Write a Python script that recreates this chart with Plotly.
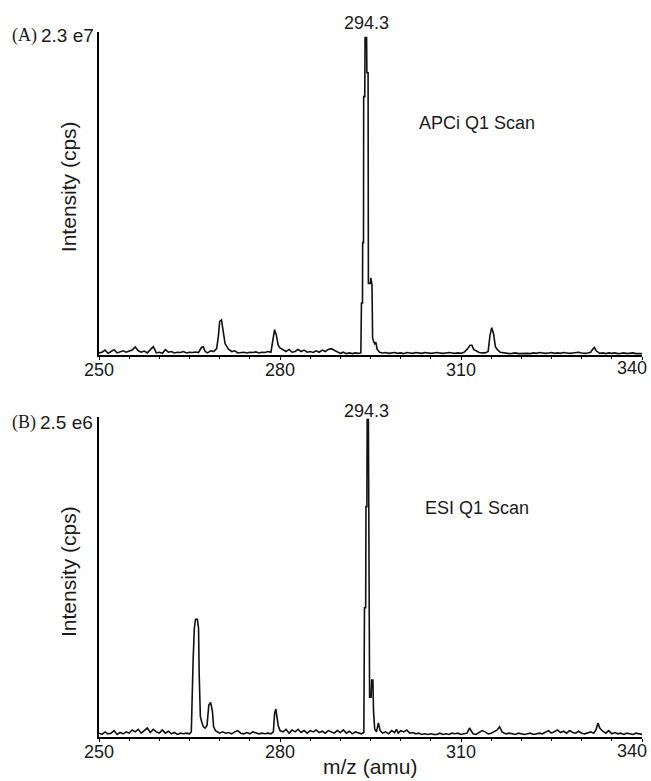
import plotly.graph_objects as go

# ---------------- Data ----------------
# Panel A: APCi Q1 scan, intensity in units of 1e5 cps (full scale 2.3e7)
mz_A = [250.0, 250.5, 251.0, 251.5, 252.0, 252.5, 253.0, 253.5, 254.0, 254.5,
        255.0, 255.5, 256.0, 256.5, 257.0, 257.5, 258.0, 258.5, 259.0, 259.5,
        260.0, 260.5, 261.0, 261.5, 262.0, 262.5, 263.0, 263.5, 264.0, 264.5,
        265.0, 265.5, 266.0, 266.5, 267.0, 267.3, 267.6, 268.0, 268.5, 269.0,
        269.5, 269.8, 270.0, 270.3, 270.6, 270.9, 271.2, 271.5, 272.0, 272.5,
        273.0, 273.5, 274.0, 274.5, 275.0, 275.5, 276.0, 276.5, 277.0, 277.5,
        278.0, 278.5, 278.8, 279.1, 279.4, 279.7, 280.0, 280.5, 281.0, 281.5,
        282.0, 282.5, 283.0, 283.5, 284.0, 284.5, 285.0, 285.5, 286.0, 286.5,
        287.0, 287.5, 288.0, 288.5, 289.0, 289.5, 290.0, 290.5, 291.0, 291.5,
        292.0, 292.5, 293.0, 293.4, 293.5, 293.67, 293.7, 293.84, 293.87, 294.05,
        294.1, 294.35, 294.4, 294.6, 294.65, 295.0, 295.05, 295.25, 295.35, 295.5,
        295.7, 295.9, 296.1, 296.3, 296.5, 297.0, 297.5, 298.0, 298.5, 299.0,
        299.5, 300.0, 300.5, 301.0, 301.5, 302.0, 302.5, 303.0, 303.5, 304.0,
        304.5, 305.0, 305.5, 306.0, 306.5, 307.0, 307.5, 308.0, 308.5, 309.0,
        309.5, 310.0, 310.5, 311.0, 311.5, 311.8, 312.1, 312.5, 313.0, 313.5,
        314.0, 314.5, 314.8, 315.1, 315.4, 315.7, 316.0, 316.5, 317.0, 317.5,
        318.0, 318.5, 319.0, 319.5, 320.0, 320.5, 321.0, 321.5, 322.0, 322.5,
        323.0, 323.5, 324.0, 324.5, 325.0, 325.5, 326.0, 326.5, 327.0, 327.5,
        328.0, 328.5, 329.0, 329.5, 330.0, 330.5, 331.0, 331.5, 331.8, 332.1,
        332.4, 332.8, 333.0, 333.5, 334.0, 334.5, 335.0, 335.5, 336.0, 336.5,
        337.0, 337.5, 338.0, 338.5, 339.0, 339.5, 340.0]
int_A = [1.5, 2.0, 3.5, 1.2, 2.5, 3.8, 1.5, 2.2, 3.0, 2.0,
         2.5, 3.5, 5.8, 3.0, 2.0, 2.8, 1.5, 3.5, 6.0, 1.5,
         2.0, 1.2, 3.8, 2.0, 2.5, 1.5, 2.0, 1.8, 2.5, 1.5,
         2.0, 1.8, 2.2, 1.8, 5.5, 5.8, 2.5, 1.5, 3.0, 2.5,
         4.5, 14.0, 24.0, 25.0, 15.0, 8.0, 6.0, 4.0, 2.5, 3.0,
         1.5, 1.8, 2.0, 1.5, 2.0, 1.8, 2.2, 1.5, 2.0, 1.8,
         2.5, 2.0, 10.0, 18.0, 14.0, 7.0, 5.0, 3.5, 2.5, 4.0,
         2.0, 2.5, 4.0, 2.5, 3.5, 2.0, 2.5, 1.8, 3.0, 2.0,
         3.5, 2.5, 4.0, 4.5, 3.5, 2.0, 1.2, 2.0, 1.0, 1.5,
         1.0, 1.5, 1.2, 1.5, 37.0, 37.0, 80.0, 80.0, 184.0, 184.0,
         226.0, 226.0, 201.0, 201.0, 51.0, 51.0, 55.0, 50.0, 12.0, 10.0,
         8.0, 9.0, 4.0, 3.0, 2.0, 1.5, 1.8, 1.2, 1.5, 1.8,
         1.2, 1.5, 1.0, 1.8, 1.5, 1.2, 1.8, 1.5, 1.2, 1.8,
         1.5, 1.2, 1.5, 1.8, 1.5, 1.2, 1.5, 1.8, 1.5, 1.2,
         1.5, 1.2, 2.0, 4.0, 7.0, 7.0, 4.0, 3.0, 1.8, 1.5,
         1.5, 2.5, 14.0, 19.5, 15.0, 6.0, 4.0, 2.0, 1.5, 1.2,
         1.0, 1.2, 1.5, 1.0, 1.2, 1.5, 1.2, 1.0, 1.5, 1.2,
         1.8, 1.5, 1.2, 1.5, 1.8, 1.2, 1.5, 1.2, 1.8, 1.5,
         1.2, 1.5, 1.8, 2.0, 1.5, 1.2, 1.5, 2.0, 4.0, 5.5,
         3.0, 2.0, 1.2, 1.5, 1.0, 1.5, 1.2, 1.5, 1.0, 1.2,
         1.5, 1.0, 1.2, 1.5, 1.0, 1.2, 1.0]

# Panel B: ESI Q1 scan, intensity in units of 1e4 cps (full scale 2.5e6)
mz_B = [250.0, 250.5, 251.0, 251.5, 252.0, 252.5, 253.0, 253.5, 254.0, 254.5,
        255.0, 255.5, 256.0, 256.5, 257.0, 257.5, 258.0, 258.5, 259.0, 259.5,
        260.0, 260.5, 261.0, 261.5, 262.0, 262.5, 263.0, 263.5, 264.0, 264.5,
        265.0, 265.3, 265.4, 265.6, 265.8, 266.0, 266.3, 266.5, 266.6, 266.8,
        267.0, 267.3, 267.6, 267.9, 268.2, 268.5, 268.8, 269.0, 269.3, 269.6,
        270.0, 270.5, 271.0, 271.5, 272.0, 272.5, 273.0, 273.5, 274.0, 274.5,
        275.0, 275.5, 276.0, 276.5, 277.0, 277.5, 278.0, 278.5, 278.9, 279.1,
        279.3, 279.5, 279.7, 280.0, 280.5, 281.0, 281.5, 282.0, 282.5, 283.0,
        283.5, 284.0, 284.5, 285.0, 285.5, 286.0, 286.5, 287.0, 287.5, 288.0,
        288.5, 289.0, 289.5, 290.0, 290.5, 291.0, 291.5, 292.0, 292.5, 293.0,
        293.5, 293.9, 294.0, 294.2, 294.25, 294.4, 294.45, 294.65, 294.7, 294.8,
        294.85, 295.1, 295.2, 295.4, 295.5, 295.7, 296.0, 296.3, 296.6, 297.0,
        297.5, 298.0, 298.5, 299.0, 299.3, 299.6, 300.0, 300.5, 301.0, 301.5,
        302.0, 302.5, 303.0, 303.5, 304.0, 304.5, 305.0, 305.5, 306.0, 306.5,
        307.0, 307.5, 308.0, 308.5, 309.0, 309.5, 310.0, 310.5, 311.0, 311.4,
        311.8, 312.0, 312.5, 313.0, 313.5, 314.0, 314.5, 315.0, 315.5, 316.0,
        316.4, 316.8, 317.2, 317.5, 318.0, 318.5, 319.0, 319.5, 320.0, 320.5,
        321.0, 321.5, 322.0, 322.5, 323.0, 323.5, 324.0, 324.5, 325.0, 325.5,
        326.0, 326.5, 327.0, 327.5, 328.0, 328.5, 329.0, 329.5, 330.0, 330.5,
        331.0, 331.5, 332.0, 332.4, 332.7, 333.0, 333.5, 334.0, 334.5, 335.0,
        335.5, 336.0, 336.5, 337.0, 337.5, 338.0, 338.5, 339.0, 339.5, 340.0]
int_B = [3.0, 2.0, 4.0, 2.5, 3.0, 5.0, 2.0, 3.5, 2.5, 4.0,
         3.0, 5.5, 4.0, 6.0, 3.0, 5.0, 7.0, 3.5, 6.0, 4.0,
         3.0, 5.5, 3.0, 4.5, 2.5, 3.5, 2.0, 3.0, 2.5, 3.0,
         2.5, 4.0, 35.0, 60.0, 85.0, 92.0, 92.0, 85.0, 50.0, 16.0,
         12.0, 8.0, 7.0, 9.0, 25.0, 27.0, 20.0, 8.0, 5.0, 4.0,
         3.0, 4.0, 3.0, 3.5, 2.5, 4.0, 5.0, 3.0, 2.5, 3.5,
         2.5, 4.0, 3.0, 2.5, 3.0, 2.5, 3.0, 2.5, 4.0, 18.0,
         22.0, 17.0, 9.0, 5.0, 4.0, 6.0, 3.0, 5.5, 4.0, 6.0,
         3.5, 5.0, 3.0, 5.0, 4.0, 5.5, 3.5, 4.5, 3.0, 5.0,
         4.0, 3.0, 5.0, 3.5, 5.5, 3.0, 4.5, 2.5, 4.0, 3.0,
         2.5, 3.5, 101.0, 101.0, 180.0, 180.0, 248.0, 248.0, 134.0, 134.0,
         31.0, 31.0, 44.5, 44.5, 20.0, 6.0, 4.0, 11.0, 5.0, 3.0,
         4.0, 2.5, 5.0, 3.5, 6.0, 3.0, 5.0, 4.0, 5.5, 3.0,
         3.5, 2.5, 3.0, 2.0, 2.5, 2.0, 2.5, 2.0, 2.0, 3.0,
         2.0, 2.5, 2.0, 3.0, 2.5, 3.0, 2.0, 2.5, 3.0, 7.0,
         3.5, 2.5, 2.0, 3.5, 5.0, 4.0, 2.5, 3.0, 4.0, 5.5,
         8.0, 4.0, 3.0, 2.5, 3.0, 2.5, 2.0, 3.0, 2.5, 2.0,
         2.5, 3.0, 2.0, 2.5, 3.0, 2.5, 3.5, 5.0, 3.0, 4.0,
         5.5, 3.5, 4.5, 3.0, 5.0, 3.5, 3.0, 4.5, 3.0, 2.5,
         3.0, 4.0, 3.0, 6.0, 11.0, 7.0, 4.5, 3.0, 5.0, 2.5,
         3.5, 2.5, 3.0, 2.0, 3.0, 2.5, 2.0, 3.0, 2.5, 2.0]

UNIT_A = 1e5
UNIT_B = 1e4
FULL_SCALE_A = 2.3e7
FULL_SCALE_B = 2.5e6
FULL_SCALE_LABEL_A = "2.3 e7"
FULL_SCALE_LABEL_B = "2.5 e6"
PANEL_LABELS = ["(A)", "(B)"]
PEAK_LABEL = 294.3
SCAN_LABELS = ["APCi Q1 Scan", "ESI Q1 Scan"]
x_ticks = [250, 280, 310, 340]
# the last label sits inside the page in the original; it is drawn as an annotation
x_ticktext = ["250", "280", "310", ""]
LAST_TICK = 340

SANS = "Liberation Sans, Arial, sans-serif"
SERIF = "Liberation Serif, Times New Roman, serif"
TXT = "#1a1a1a"

fig = go.Figure()
fig.add_trace(go.Scatter(x=mz_A, y=[v * UNIT_A for v in int_A], mode="lines",
                         line=dict(color="#111111", width=1.6), xaxis="x", yaxis="y",
                         showlegend=False))
fig.add_trace(go.Scatter(x=mz_B, y=[v * UNIT_B for v in int_B], mode="lines",
                         line=dict(color="#111111", width=1.6), xaxis="x2", yaxis="y2",
                         showlegend=False))

xcommon = dict(range=[250, 340], tickvals=x_ticks, ticktext=x_ticktext,
               showline=True, linecolor="black", linewidth=2, ticks="outside",
               ticklen=3, tickcolor="black", tickwidth=1, showgrid=False, zeroline=False,
               ticklabelstandoff=-6, automargin=False,
               tickfont=dict(family=SANS, size=18, color=TXT),
               minor=dict(dtick=5, ticks="outside", ticklen=2, tickcolor="black"))
ycommon = dict(showline=True, linecolor="black", linewidth=2, showticklabels=False,
               ticks="", showgrid=False, zeroline=False, automargin=False)

fig.update_layout(
    width=651, height=781,
    margin=dict(l=99, r=9, t=32, b=44),
    plot_bgcolor="white", paper_bgcolor="white",
    xaxis=dict(domain=[0, 1], anchor="y", **xcommon),
    yaxis=dict(domain=[0.5418, 1], range=[0, FULL_SCALE_A], anchor="x", **ycommon),
    xaxis2=dict(domain=[0, 1], anchor="y2", **xcommon),
    yaxis2=dict(domain=[0, 0.4539], range=[0, FULL_SCALE_B], anchor="x2", **ycommon),
)

ann = []
# panel labels and full scale
for lbl, scale, yy, xr_lbl, xr_scale in [
        (PANEL_LABELS[0], FULL_SCALE_LABEL_A, 0.995, -0.110, -0.006),
        (PANEL_LABELS[1], FULL_SCALE_LABEL_B, 0.4454, -0.113, -0.008)]:
    ann.append(dict(text=lbl, xref="paper", yref="paper", x=xr_lbl, y=yy,
                    xanchor="right", yanchor="middle", showarrow=False,
                    font=dict(family=SERIF, size=18, color=TXT)))
    ann.append(dict(text=scale, xref="paper", yref="paper", x=xr_scale, y=yy,
                    xanchor="right", yanchor="middle", showarrow=False,
                    font=dict(family=SANS, size=19, color=TXT)))
# last tick labels (340), kept within the page
for xa, yy, ysh in [("x", 0.5418, -13), ("x2", 0.0, -14)]:
    ann.append(dict(text=str(LAST_TICK), xref=xa, yref="paper", x=LAST_TICK, y=yy,
                    xanchor="right", yanchor="middle", xshift=7, yshift=ysh,
                    showarrow=False, font=dict(family=SANS, size=18, color=TXT)))
# peak labels
for xa, yy in [("x", 1.0125), ("x2", 0.4629)]:
    ann.append(dict(text=f"{PEAK_LABEL}", xref=xa, yref="paper", x=PEAK_LABEL, y=yy,
                    xanchor="center", yanchor="middle", showarrow=False,
                    font=dict(family=SANS, size=18, color=TXT)))
# scan labels
for txt, yy in [(SCAN_LABELS[0], 0.871), (SCAN_LABELS[1], 0.325)]:
    ann.append(dict(text=txt, xref="paper", yref="paper", x=0.696, y=yy,
                    xanchor="center", yanchor="middle", showarrow=False,
                    font=dict(family=SANS, size=18, color=TXT)))
# y axis titles
for yy in [0.780, 0.234]:
    ann.append(dict(text="Intensity (cps)", xref="paper", yref="paper", x=-0.057, y=yy,
                    xanchor="center", yanchor="middle", textangle=-90, showarrow=False,
                    font=dict(family=SANS, size=21, color=TXT)))
# x axis title
ann.append(dict(text="m/z (amu)", xref="paper", yref="paper", x=0.5, y=-0.0615,
                xanchor="center", yanchor="bottom", showarrow=False,
                font=dict(family=SANS, size=21, color=TXT)))
fig.update_layout(annotations=ann)

fig.write_html("out.html")
